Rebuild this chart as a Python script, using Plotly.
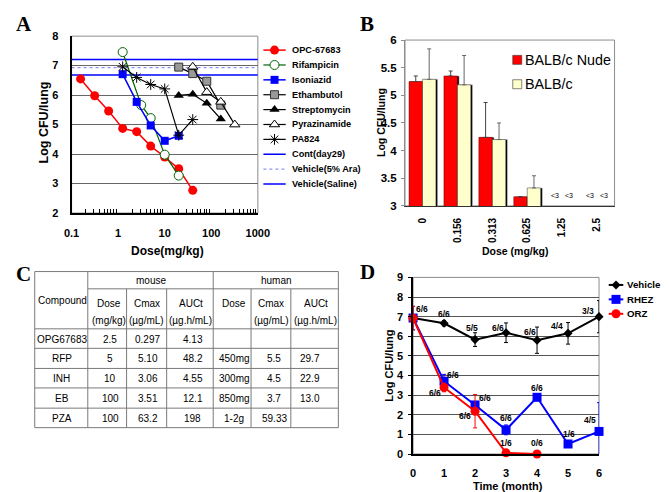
import plotly.graph_objects as go

W, H = 669, 492
SANS = "Liberation Sans, Arial, sans-serif"
SERIF = "Liberation Serif, Times New Roman, serif"

# ---------------- Panel A data ----------------
opc_dose = [0.156, 0.313, 0.625, 1.25, 2.5, 5, 10, 20, 40]
opc_cfu = [6.55, 5.98, 5.46, 4.87, 4.76, 4.27, 3.90, 3.50, 2.77]
rif_dose = [1.25, 3.13, 5, 10, 20]
rif_cfu = [7.46, 5.66, 5.22, 3.98, 3.27]
inh_dose = [1.25, 2.5, 5, 10, 20]
inh_cfu = [6.71, 5.77, 4.97, 4.45, 4.62]
emb_dose = [20, 40, 80, 160]
emb_cfu = [6.95, 6.73, 6.47, 5.66]
sm_dose = [20, 40, 80, 160]
sm_cfu = [5.99, 6.03, 5.72, 5.19]
pza_dose = [40, 80, 160, 320]
pza_cfu = [6.96, 6.10, 5.77, 5.00]
pa_dose = [1.25, 2.5, 5, 10, 20, 40]
pa_cfu = [6.96, 6.60, 6.36, 6.21, 4.64, 5.17]
ref_names = ["Cont(day29)", "Vehicle(5% Ara)", "Vehicle(Saline)"]
ref_levels = [7.21, 6.93, 6.68]
a_xticks = [0.1, 1, 10, 100, 1000]

# ---------------- Panel B data ----------------
b_doses = ["0", "0.156", "0.313", "0.625", "1.25", "2.5"]
nude_cfu = [5.25, 5.35, 4.24, 3.165, None, None]
nude_err = [0.10, 0.09, 0.63, None, None, None]
balb_cfu = [5.29, 5.19, 4.20, 3.325, None, None]
balb_err = [0.55, 0.53, 0.30, 0.22, None, None]
b_below = "<3"

# ---------------- Panel C data ----------------
tbl_compound = ["OPG67683", "RFP", "INH", "EB", "PZA"]
tbl_m_dose = ["2.5", "5", "10", "100", "100"]
tbl_m_cmax = ["0.297", "5.10", "3.06", "3.51", "63.2"]
tbl_m_auc = ["4.13", "48.2", "4.55", "12.1", "198"]
tbl_h_dose = ["", "450mg", "300mg", "850mg", "1-2g"]
tbl_h_cmax = ["", "5.5", "4.5", "3.7", "59.33"]
tbl_h_auc = ["", "29.7", "22.9", "13.0", ""]
tbl_groups = ["mouse", "human"]
tbl_sub1 = ["Dose", "Cmax", "AUCt", "Dose", "Cmax", "AUCt"]
tbl_sub2 = ["(mg/kg)", "(\u00b5g/mL)", "(\u00b5g.h/mL)", "", "(\u00b5g/mL)", "(\u00b5g.h/mL)"]

# ---------------- Panel D data ----------------
months = [0, 1, 2, 3, 4, 5, 6]
veh_cfu = [6.93, 6.66, 5.83, 6.18, 5.80, 6.15, 7.00]
veh_err = [None, 0.13, 0.35, 0.50, 0.67, 0.55, 0.82]
rhez_cfu = [6.93, 3.71, 2.50, 1.23, 2.89, 0.51, 1.15]
rhez_err = [0.6, 0.35, None, 0.25, None, None, 1.47]
orz_months = [0, 1, 2, 3, 4]
orz_cfu = [6.92, 3.39, 2.18, 0.06, 0.0]
orz_err = [0.6, 0.22, 0.85, None, None]
veh_n = ["6/6", "6/6", "5/5", "6/6", "6/6", "4/4", "3/3"]
rhez_n = [None, "6/6", "6/6", "6/6", "6/6", "1/6", "4/5"]
orz_n = [None, "6/6", "6/6", "1/6", "0/6"]

# ---------------- layout geometry (pixels) ----------------
A_box = (57.3, 249.3, 22.7, 204.0)
B_box = (401.0, 617.0, 26.7, 196.7)
D_box = (409.3, 601.0, 270.0, 451.0)


def dom(box):
    l, r, t, b = box
    return [l / W, r / W], [1 - b / H, 1 - t / H]


fig = go.Figure()

# ---------------- Panel A ----------------
A_series = [
    ("OPC-67683", opc_dose, opc_cfu,
     dict(color="#ff0000", width=1.5),
     dict(symbol="circle", size=9, color="#ff0000")),
    ("Rifampicin", rif_dose, rif_cfu,
     dict(color="#006600", width=1.2),
     dict(symbol="circle", size=9, color="white", line=dict(color="#006600", width=1))),
    ("Isoniazid", inh_dose, inh_cfu,
     dict(color="#0000ff", width=1.5),
     dict(symbol="square", size=8, color="#0000ff")),
    ("Ethambutol", emb_dose, emb_cfu,
     dict(color="black", width=1.2),
     dict(symbol="square", size=8, color="#999999", line=dict(color="#333333", width=1))),
    ("Streptomycin", sm_dose, sm_cfu,
     dict(color="black", width=1.2),
     dict(symbol="triangle-up", size=9, color="black")),
    ("Pyrazinamide", pza_dose, pza_cfu,
     dict(color="black", width=1.2),
     dict(symbol="triangle-up", size=9, color="white", line=dict(color="black", width=1))),
    ("PA824", pa_dose, pa_cfu,
     dict(color="black", width=1.2),
     dict(symbol="asterisk-open", size=9, color="black", line=dict(color="black", width=1))),
]
ref_styles = [
    dict(color="#0000ff", width=1.5),
    dict(color="#7777ff", width=1, dash="dot"),
    dict(color="#0000ff", width=1.5),
]

for name, lvl, st in zip(ref_names, ref_levels, ref_styles):
    fig.add_trace(go.Scatter(x=[a_xticks[0], a_xticks[-1]], y=[lvl, lvl], mode="lines",
                             line=st, xaxis="x", yaxis="y", showlegend=False, name=name))
for name, xs, ys, ln, mk in A_series:
    fig.add_trace(go.Scatter(x=xs, y=ys, mode="lines+markers", line=ln, marker=mk,
                             xaxis="x", yaxis="y", showlegend=False, name=name,
                             cliponaxis=False))

# ---------------- Panel B ----------------
B_W = 0.385
SH = 0.05
fig.add_trace(go.Bar(x=b_doses, y=nude_cfu, xaxis="x2", yaxis="y2",
                     marker=dict(color="black"), offset=-B_W + SH, width=B_W,
                     showlegend=False, hoverinfo="skip"))
fig.add_trace(go.Bar(x=b_doses, y=nude_cfu, xaxis="x2", yaxis="y2", name="BALB/c Nude",
                     marker=dict(color="#ff0000", line=dict(color="#550000", width=0.5)),
                     offset=-B_W, width=B_W, showlegend=False,
                     error_y=dict(type="data", array=nude_err, symmetric=False,
                                  arrayminus=[0] * len(nude_err), color="#444444",
                                  thickness=1, width=2)))
fig.add_trace(go.Bar(x=b_doses, y=balb_cfu, xaxis="x2", yaxis="y2",
                     marker=dict(color="black"), offset=SH, width=B_W,
                     showlegend=False, hoverinfo="skip"))
fig.add_trace(go.Bar(x=b_doses, y=balb_cfu, xaxis="x2", yaxis="y2", name="BALB/c",
                     marker=dict(color="#ffffcc", line=dict(color="#333333", width=0.5)),
                     offset=0, width=B_W, showlegend=False,
                     error_y=dict(type="data", array=balb_err, symmetric=False,
                                  arrayminus=[0] * len(balb_err), color="#666666",
                                  thickness=1, width=2)))

# ---------------- Panel D ----------------
D_series = [
    ("Vehicle", months, veh_cfu, veh_err, "black", dict(symbol="diamond", size=7, color="black")),
    ("RHEZ", months, rhez_cfu, rhez_err, "#0000ff", dict(symbol="square", size=9, color="#0000ff")),
    ("ORZ", orz_months, orz_cfu, orz_err, "#ff0000", dict(symbol="circle", size=9, color="#ff0000")),
]
for name, xs, ys, err, col, mk in D_series:
    fig.add_trace(go.Scatter(x=xs, y=ys, mode="lines+markers", name=name,
                             line=dict(color=col, width=2), marker=mk,
                             error_y=dict(type="data", array=err, color=col, thickness=1, width=2),
                             xaxis="x3", yaxis="y3", showlegend=False, cliponaxis=False))

# ---------------- pixel overlay axis (legends, table) ----------------
ann = []
shapes = []


def ptext(x, y, text, size, bold=False, xanchor="center", family=SANS, angle=0, color="black"):
    t = "<b>%s</b>" % text if bold else text
    ann.append(dict(x=x, y=y, xref="x4", yref="y4", text=t, showarrow=False,
                    xanchor=xanchor, yanchor="middle", textangle=angle, borderpad=0,
                    font=dict(family=family, size=size, color=color)))


def pline(x0, y0, x1, y1, color="#808080", width=1, dash=None):
    ln = dict(color=color, width=width)
    if dash:
        ln["dash"] = dash
    shapes.append(dict(type="line", xref="x4", yref="y4", x0=x0, y0=y0, x1=x1, y1=y1,
                       line=ln, layer="above"))


def legend_glyph(x0, x1, y, line, marker):
    if line is not None:
        fig.add_trace(go.Scatter(x=[x0, x1], y=[y, y], mode="lines", line=line,
                                 xaxis="x4", yaxis="y4", showlegend=False,
                                 hoverinfo="skip", cliponaxis=False))
    if marker is not None:
        fig.add_trace(go.Scatter(x=[(x0 + x1) / 2], y=[y], mode="markers", marker=marker,
                                 xaxis="x4", yaxis="y4", showlegend=False,
                                 hoverinfo="skip", cliponaxis=False))


# Legend A
legA = [(n, ln, mk) for n, _, _, ln, mk in A_series] + \
       [(n, st, None) for n, st in zip(ref_names, ref_styles)]
for i, (n, ln, mk) in enumerate(legA):
    yy = 37 + 15.25 * i
    legend_glyph(255, 278, yy, ln, mk)
    ptext(283, yy, n, 9.2, bold=True, xanchor="left")

# Legend B
for i, (n, col) in enumerate([("BALB/c Nude", "#ff0000"), ("BALB/c", "#ffffcc")]):
    yy = 47 + 25 * i
    legend_glyph(516.7, 516.7, yy, None,
                 dict(symbol="square", size=9, color=col, line=dict(color="#333333", width=0.6)))
    ptext(523.5, yy, n, 14.3, xanchor="left")

# Legend D
for i, (name, _, _, _, col, mk) in enumerate(D_series):
    yy = 277.7 + 14.8 * i
    legend_glyph(611, 626, yy, dict(color=col, width=2), mk)
    ptext(629, yy, name, 9.7, bold=True, xanchor="left")

# Table C
col_edges = [19.3, 74, 114, 155.3, 203.3, 242.3, 283.3, 332.3]
row_edges = [264, 281.7, 322.7, 342.7, 363.3, 383.3, 404, 424]
TC = "#7a7a7a"
pline(col_edges[0], row_edges[0], col_edges[-1], row_edges[0], TC)
pline(col_edges[1], row_edges[1], col_edges[-1], row_edges[1], TC)
for r in row_edges[2:]:
    pline(col_edges[0], r, col_edges[-1], r, TC)
for j, c in enumerate(col_edges):
    top = row_edges[0] if j in (0, 1, 4, 7) else row_edges[1]
    pline(c, top, c, row_edges[-1], TC)

data_cols = [tbl_compound, tbl_m_dose, tbl_m_cmax, tbl_m_auc, tbl_h_dose, tbl_h_cmax, tbl_h_auc]
cell_x = [47, 97, 136, 182, 225, 266, 303]
for j, colvals in enumerate(data_cols):
    for i, v in enumerate(colvals):
        if v:
            ptext(cell_x[j], (row_edges[i + 2] + row_edges[i + 3]) / 2 + 0.5, v, 10)
ptext(139, 273, tbl_groups[0], 10)
ptext(269, 273, tbl_groups[1], 10)
ptext(47.5, 294, "Compound", 10)
sub_x = [96, 135, 180, 225, 263, 309]
for j in range(6):
    ptext(sub_x[j], 297, tbl_sub1[j], 10)
    if tbl_sub2[j]:
        ptext(sub_x[j], 314, tbl_sub2[j], 10)

# axis titles
ptext(29, 111, "Log CFU/lung", 12.5, bold=True, angle=-90)
ptext(156, 243, "Dose(mg/kg)", 12, bold=True)
ptext(377, 111, "Log CFU/lung", 10.5, bold=True, angle=-90)
ptext(515, 243, "Dose (mg/kg)", 10.5, bold=True)
ptext(385, 360, "Log CFU/lung", 11, bold=True, angle=-90)
ptext(507, 484, "Time (month)", 11, bold=True)

# panel letters
for letter, x, y in [("A", 8, 10), ("B", 362, 10), ("C", 8, 266), ("D", 362, 264)]:
    ptext(x, y, letter, 21, bold=True, family=SERIF)

# "<3" labels in panel B (below detection limit), placed at the bar slots
for i, (a, b) in enumerate(zip(nude_cfu, balb_cfu)):
    if a is None and b is None:
        for frac in (-B_W / 2, B_W / 2):
            ann.append(dict(x=i + frac, y=3.19, xref="x2", yref="y2",
                            text=b_below, showarrow=False,
                            font=dict(family=SANS, size=7, color="black")))

# n/N labels in panel D
veh_off = [(9, -9), (0, -9), (-3, -12), (-8, -5), (-7, -8), (-11, -7), (-11, -6)]
rhez_off = [None, (9, -6), (9.5, -7), (0, -12), (0, -9), (1, -10), (-9, -11)]
orz_off = [None, (-9, 6), (-10.5, 5), (0, -10), (0, -11)]
for xs, ys, labels, offs in [(months, veh_cfu, veh_n, veh_off),
                             (months, rhez_cfu, rhez_n, rhez_off),
                             (orz_months, orz_cfu, orz_n, orz_off)]:
    for x, y, lab, off in zip(xs, ys, labels, offs):
        if lab:
            ann.append(dict(x=x, y=y, xref="x3", yref="y3", xshift=off[0], yshift=-off[1],
                            text="<b>%s</b>" % lab, showarrow=False,
                            font=dict(family=SANS, size=8.5, color="black")))

# frames
for xr, yr in [("x", "y"), ("x2", "y2"), ("x3", "y3")]:
    shapes.append(dict(type="rect", xref=xr + " domain", yref=yr + " domain",
                       x0=0, x1=1, y0=0, y1=1, line=dict(color="#8c8c8c", width=1),
                       layer="below"))

axA_x, axA_y = dom(A_box)
axB_x, axB_y = dom(B_box)
axD_x, axD_y = dom(D_box)


def tickbold(s):
    return dict(family=SANS, size=s, color="black", weight="bold")


fig.update_layout(
    width=W, height=H, margin=dict(l=0, r=0, t=0, b=0),
    paper_bgcolor="white", plot_bgcolor="rgba(0,0,0,0)", showlegend=False,
    barmode="overlay",
    xaxis=dict(domain=axA_x, anchor="y", type="log", range=[-1, 3], dtick=1,
               exponentformat="none", showgrid=False, zeroline=False,
               showline=True, linecolor="black", linewidth=2, ticks="",
               tickfont=tickbold(11), ticklabelstandoff=9,
               minor=dict(ticks="inside", ticklen=4, tickcolor="black", tickwidth=1,
                          dtick="D1", showgrid=False)),
    yaxis=dict(domain=axA_y, anchor="x", range=[2, 8], dtick=1, showgrid=True,
               gridcolor="#666666", gridwidth=1, zeroline=False, showline=True,
               linecolor="black", linewidth=2, ticks="", tickfont=tickbold(11),
               ticklabelstandoff=9),
    xaxis2=dict(domain=axB_x, anchor="y2", type="category", range=[-0.5, 5.5],
                showgrid=False, zeroline=False, showline=True, linecolor="#333333",
                linewidth=1, ticks="", tickangle=-90, tickfont=tickbold(10),
                ticklabelstandoff=7),
    yaxis2=dict(domain=axB_y, anchor="x2", range=[3, 6], dtick=0.5, showgrid=False,
                zeroline=False, showline=True, linecolor="#8c8c8c", linewidth=1,
                ticks="outside", ticklen=3, tickcolor="#8c8c8c",
                tickfont=tickbold(11.5), ticklabelstandoff=2),
    xaxis3=dict(domain=axD_x, anchor="y3", range=[0, 6], dtick=1, showgrid=False,
                zeroline=False, showline=True, linecolor="black", linewidth=2,
                ticks="", tickfont=tickbold(11), ticklabelstandoff=8),
    yaxis3=dict(domain=axD_y, anchor="x3", range=[0, 9], dtick=1, showgrid=True,
                gridcolor="#555555", gridwidth=1, zeroline=False, showline=True,
                linecolor="black", linewidth=1.5, ticks="outside", ticklen=3,
                tickcolor="black", tickfont=tickbold(11), ticklabelstandoff=3),
    xaxis4=dict(domain=[0, 1], anchor="y4", range=[0, W], visible=False, fixedrange=True),
    yaxis4=dict(domain=[0, 1], anchor="x4", range=[H, 0], visible=False, fixedrange=True),
    annotations=ann, shapes=shapes,
)

fig.write_html("out.html")
